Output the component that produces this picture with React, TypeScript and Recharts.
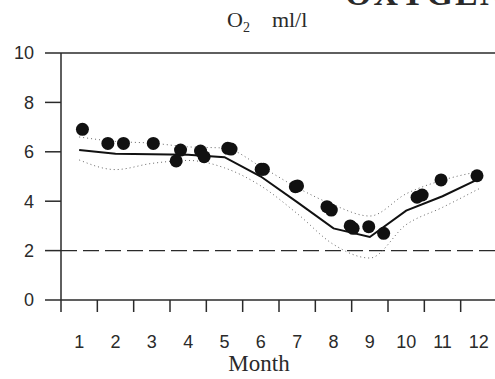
import { ComposedChart, Line, Scatter, XAxis, YAxis, ReferenceLine } from "recharts"

// monthly curve: mean O2 and its confidence band, read at mid-month
const monthCenters = [0.5, 1.5, 2.5, 3.5, 4.5, 5.5, 6.5, 7.5, 8.5, 9.5, 10.5, 11.5]
const monthLabels = ["1", "2", "3", "4", "5", "6", "7", "8", "9", "10", "11", "12"]
const meanO2 = [6.07, 5.92, 5.9, 5.88, 5.78, 5.0, 3.96, 2.9, 2.55, 3.62, 4.2, 4.9]
const upperO2 = [6.6, 6.42, 6.35, 6.2, 6.15, 5.4, 4.55, 3.85, 3.4, 4.3, 4.85, 5.2]
const lowerO2 = [5.67, 5.28, 5.53, 5.65, 5.35, 4.62, 3.5, 2.25, 1.7, 3.05, 3.75, 4.5]

// individual observations (fractional month, ml/l)
const obsMonth = [0.59, 1.29, 1.72, 2.54, 3.29, 3.17, 3.84, 3.94, 4.59, 4.68, 5.51, 5.57, 6.45, 6.51, 7.32, 7.44, 7.96, 8.04, 8.47, 8.88, 9.8, 9.94, 10.46, 11.45]
const obsO2 = [6.91, 6.34, 6.34, 6.34, 6.07, 5.63, 6.03, 5.8, 6.14, 6.11, 5.29, 5.29, 4.59, 4.62, 3.78, 3.64, 3.0, 2.9, 2.97, 2.7, 4.16, 4.25, 4.86, 5.03]

const yTicks = [0, 2, 4, 6, 8, 10]
const monthEdges = [0, 1, 2, 3, 4, 5, 6, 7, 8, 9, 10, 11, 12]
const hypoxiaLevel = 2

const curve = monthCenters.map((x, i) => ({ x, mean: meanO2[i], upper: upperO2[i], lower: lowerO2[i] }))
const obs = obsMonth.map((x, i) => ({ x, o2: obsO2[i] }))

const sans = "'Liberation Sans', Arial, sans-serif"
const serif = "'Liberation Serif', 'Times New Roman', serif"
const ink = "#2a2a2a"

export default function App() {
  return (
    <div style={{ position: "absolute", left: 0, top: 0, width: 495, height: 379, overflow: "hidden", background: "#fff" }}>
      <div style={{ position: "absolute", left: 345, top: -23, fontFamily: serif, fontWeight: 700, fontSize: 34, lineHeight: "34px", letterSpacing: 2, color: ink, whiteSpace: "nowrap" }}>
        OXYGEN
      </div>
      <div style={{ position: "absolute", left: 227, top: 10, fontFamily: serif, fontSize: 22, lineHeight: "20px", color: ink, whiteSpace: "nowrap" }}>
        O<sub style={{ fontSize: 14 }}>2</sub>&nbsp;&nbsp;&nbsp;&nbsp;ml/l
      </div>
      <ComposedChart width={500} height={379} data={curve} margin={{ top: 53, right: 3, bottom: 0, left: 0 }}>
        <XAxis
          xAxisId="b"
          dataKey="x"
          type="number"
          domain={[0, 12]}
          ticks={monthCenters}
          tickFormatter={(v: number) => monthLabels[monthCenters.indexOf(v)]}
          axisLine={false}
          tickLine={false}
          tickSize={0}
          tickMargin={23}
          height={67}
          tick={{ fontSize: 18, fill: ink, fontFamily: sans }}
        />
        {/* month boundaries: tick marks only */}
        <XAxis
          xAxisId="a"
          dataKey="x"
          type="number"
          domain={[0, 12]}
          ticks={monthEdges}
          tickFormatter={() => ""}
          tickSize={12}
          height={12}
          stroke={ink}
          strokeWidth={1.5}
        />
        <YAxis
          domain={[0, 10]}
          ticks={yTicks}
          width={61}
          tickSize={16}
          tickMargin={11}
          stroke={ink}
          strokeWidth={1.5}
          tick={{ fontSize: 18, fill: ink, fontFamily: sans }}
        />
        <ReferenceLine xAxisId="a" y={10} stroke={ink} strokeWidth={1.5} />
        <ReferenceLine xAxisId="a" x={12} stroke={ink} strokeWidth={1.5} />
        <ReferenceLine xAxisId="a" y={hypoxiaLevel} stroke={ink} strokeWidth={1.3} strokeDasharray="16 6" />
        <Line xAxisId="a" dataKey="upper" type="monotone" stroke="#666" strokeWidth={1} strokeDasharray="1 3" dot={false} isAnimationActive={false} />
        <Line xAxisId="a" dataKey="lower" type="monotone" stroke="#666" strokeWidth={1} strokeDasharray="1 3" dot={false} isAnimationActive={false} />
        <Line xAxisId="a" dataKey="mean" type="linear" stroke="#111" strokeWidth={2} dot={false} isAnimationActive={false} />
        <Scatter
          xAxisId="a"
          data={obs}
          dataKey="o2"
          isAnimationActive={false}
          shape={(p: any) => <circle cx={p.cx} cy={p.cy} r={6.5} fill="#111" />}
        />
      </ComposedChart>
      <div style={{ position: "absolute", left: 259, top: 352, transform: "translateX(-50%)", fontFamily: serif, fontSize: 23, lineHeight: "24px", color: ink }}>
        Month
      </div>
    </div>
  )
}
